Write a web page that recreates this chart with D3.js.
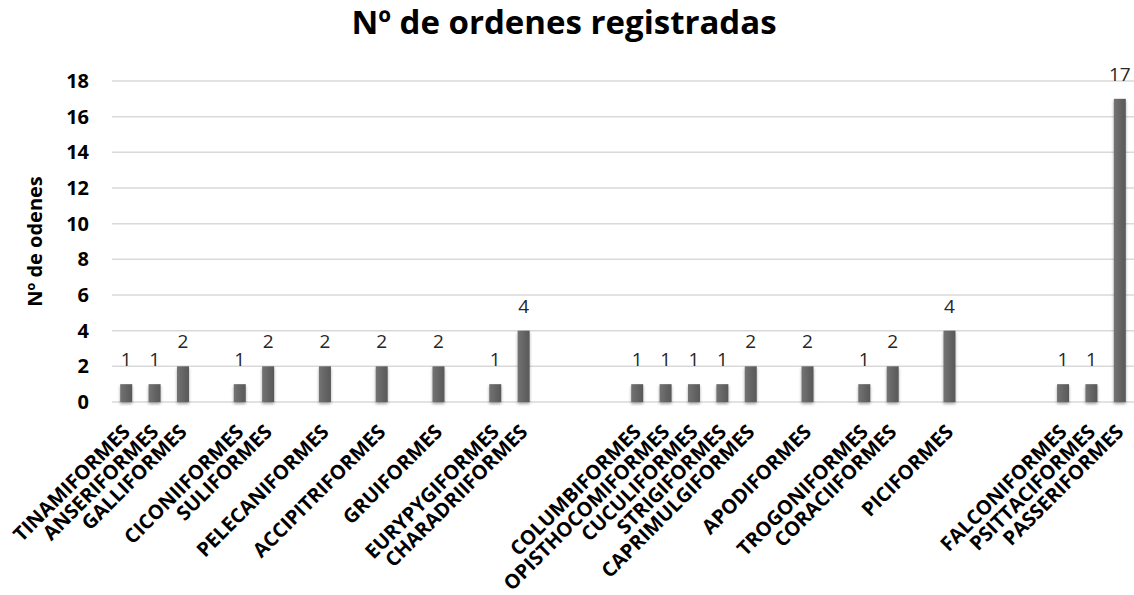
<!DOCTYPE html>
<html>
<head>
<meta charset="utf-8">
<script src="https://cdn.jsdelivr.net/npm/d3@7"></script>
<style>
  body { margin: 0; background: #fff; }
  text { font-family: "Open Sans", sans-serif; }
</style>
</head>
<body>
<div id="chart"></div>
<script>
// categories (empty strings are the blank slots in the original sheet)
var orders = [
  "TINAMIFORMES", "ANSERIFORMES", "GALLIFORMES", "",
  "CICONIIFORMES", "SULIFORMES", "", "PELECANIFORMES", "",
  "ACCIPITRIFORMES", "", "GRUIFORMES", "", "EURYPYGIFORMES",
  "CHARADRIIFORMES", "", "", "", "COLUMBIFORMES", "OPISTHOCOMIFORMES",
  "CUCULIFORMES", "STRIGIFORMES", "CAPRIMULGIFORMES", "", "APODIFORMES",
  "", "TROGONIFORMES", "CORACIIFORMES", "", "PICIFORMES", "", "", "",
  "FALCONIFORMES", "PSITTACIFORMES", "PASSERIFORMES"
];
var counts = [
  1, 1, 2, null,
  1, 2, null, 2, null,
  2, null, 2, null, 1,
  4, null, null, null, 1, 1,
  1, 1, 2, null, 2,
  null, 1, 2, null, 4, null, null, null,
  1, 1, 17
];
var yTicks = [0, 2, 4, 6, 8, 10, 12, 14, 16, 18];

var W = 1134, H = 595;
var margin = { top: 81, right: 0, bottom: 193, left: 112 };
var width = W - margin.left - margin.right;
var height = H - margin.top - margin.bottom;

var svg = d3.select("#chart").append("svg")
  .attr("width", W)
  .attr("height", H);

var defs = svg.append("defs");
var grad = defs.append("linearGradient")
  .attr("id", "barGrad")
  .attr("x1", "0%").attr("x2", "100%").attr("y1", "0%").attr("y2", "0%");
grad.append("stop").attr("offset", "0%").attr("stop-color", "#737373");
grad.append("stop").attr("offset", "100%").attr("stop-color", "#585858");

var shadow = defs.append("filter").attr("id", "shadow")
  .attr("x", "-50%").attr("y", "-10%").attr("width", "200%").attr("height", "130%");
shadow.append("feDropShadow")
  .attr("dx", 0).attr("dy", 2).attr("stdDeviation", 1.5)
  .attr("flood-color", "#000").attr("flood-opacity", 0.35);

var g = svg.append("g")
  .attr("transform", "translate(" + margin.left + "," + margin.top + ")");

var x = d3.scaleBand()
  .domain(d3.range(orders.length))
  .range([0, width])
  .paddingInner(0.58)
  .paddingOuter(0.29);

var y = d3.scaleLinear()
  .domain([0, 18])
  .range([height, 0]);

// gridlines
g.append("g")
  .selectAll("line")
  .data(yTicks)
  .join("line")
    .attr("x1", 0)
    .attr("x2", width)
    .attr("y1", function(d) { return y(d); })
    .attr("y2", function(d) { return y(d); })
    .attr("stroke", "#d9d9d9")
    .attr("stroke-width", 1.5);

// y axis labels
var yAxis = g.append("g")
  .attr("transform", "translate(-23,0)")
  .call(d3.axisLeft(y).tickValues(yTicks).tickSize(0).tickPadding(0));
yAxis.select(".domain").remove();
yAxis.selectAll("text")
  .style("font-family", "'Open Sans', sans-serif")
  .style("font-size", "20px")
  .style("font-weight", "bold")
  .attr("fill", "#000");

// bars
var data = counts.map(function(v, i) { return { i: i, name: orders[i], value: v }; })
  .filter(function(d) { return d.value != null; });

var barW = 12;

g.selectAll("rect.bar")
  .data(data)
  .join("rect")
    .attr("class", "bar")
    .attr("x", function(d) { return x(d.i) + x.bandwidth() / 2 - barW / 2; })
    .attr("y", function(d) { return y(d.value); })
    .attr("width", barW)
    .attr("height", function(d) { return height - y(d.value); })
    .attr("fill", "url(#barGrad)")
    .attr("filter", "url(#shadow)");

// value labels
g.selectAll("text.val")
  .data(data)
  .join("text")
    .attr("class", "val")
    .attr("x", function(d) { return x(d.i) + x.bandwidth() / 2; })
    .attr("y", function(d) { return y(d.value) - 18; })
    .attr("text-anchor", "middle")
    .style("font-size", "19px")
    .attr("fill", "#262626")
    .text(function(d) { return d.value; });

// category labels
g.selectAll("text.cat")
  .data(orders.map(function(n, i) { return { i: i, name: n }; }).filter(function(d) { return d.name; }))
  .join("text")
    .attr("class", "cat")
    .attr("transform", function(d) {
      return "translate(" + (x(d.i) + x.bandwidth() / 2) + "," + (height + 26) + ") rotate(-45)";
    })
    .attr("text-anchor", "end")
    .attr("dy", "0.36em")
    .style("font-size", "20px")
    .style("font-weight", "bold")
    .attr("fill", "#000")
    .text(function(d) { return d.name; });

// title
svg.append("text")
  .attr("x", 564)
  .attr("y", 34)
  .attr("text-anchor", "middle")
  .style("font-size", "33px")
  .style("font-weight", "bold")
  .attr("fill", "#000")
  .text("Nº de ordenes registradas");

// y axis title
svg.append("text")
  .attr("transform", "translate(42," + (margin.top + height / 2) + ") rotate(-90)")
  .attr("text-anchor", "middle")
  .style("font-size", "20px")
  .style("font-weight", "bold")
  .attr("fill", "#000")
  .text("Nº de odenes");
</script>
</body>
</html>
